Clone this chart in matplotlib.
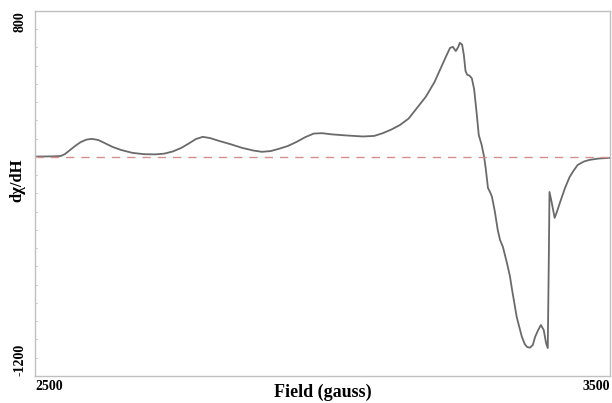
import numpy as np
import matplotlib.pyplot as plt

# EPR derivative spectrum
field = [2500, 2530, 2545, 2552, 2560, 2570, 2580, 2590, 2599, 2610, 2620, 2635,
         2650, 2670, 2690, 2710, 2725, 2740, 2755, 2770, 2780, 2792, 2805, 2820,
         2840, 2860, 2880, 2895, 2910, 2925, 2940, 2955, 2970, 2985, 3000, 3015,
         3040, 3070, 3090, 3105, 3120, 3135, 3150, 3165, 3180, 3195, 3205, 3215,
         3222, 3227, 3232, 3236, 3239, 3243, 3246, 3249, 3252, 3256, 3260, 3264,
         3268, 3272, 3277, 3281, 3284, 3288, 3292, 3295, 3300, 3305, 3309, 3314,
         3321, 3326, 3330, 3338, 3347, 3352, 3356, 3361, 3366, 3370, 3375, 3380,
         3385, 3389, 3392, 3394, 3395, 3399, 3404, 3408, 3413, 3422, 3430, 3437,
         3444, 3455, 3465, 3480, 3500]
signal = [2, 3, 5, 15, 35, 60, 82, 95, 99, 93, 78, 55,
          38, 22, 15, 14, 18, 30, 50, 78, 98, 110, 103, 88,
          70, 50, 35, 28, 32, 45, 60, 82, 108, 128, 130, 124,
          118, 112, 115, 130, 150, 175, 210, 270, 330, 410, 480, 550,
          597, 603, 580, 600, 625, 615, 560, 470, 450, 445, 430, 370,
          250, 120, 66, 5, -60, -170, -195, -219, -300, -400, -455, -493,
          -581, -650, -729, -877, -986, -1025, -1041, -1045, -1030, -986, -950, -921,
          -948, -1019, -1047, -510, -192, -252, -334, -300, -252, -170, -110, -75,
          -44, -25, -16, -9, -5]

fig = plt.figure(figsize=(6.12, 4.03), dpi=100)
ax = fig.add_axes([0.057, 0.067, 0.9395, 0.906])

ax.plot(field, signal, color='#6a6a6a', linewidth=1.3)
ax.axhline(0, color='#d49090', linewidth=1.0, linestyle=(0, (6, 5)))

ax.set_xlim(2500, 3500)
ax.set_ylim(-1200, 800)

serif = ['Liberation Serif', 'DejaVu Serif']
ax.set_xticks([2500, 3500])
ax.set_xticklabels(['2500', '3500'], family=serif, fontweight='bold', fontsize=10)
ax.get_xticklabels()[0].set_ha('left')
ax.get_xticklabels()[1].set_ha('right')
ax.set_yticks([-1200, 800])
ax.set_yticklabels(['-1200', '800'], family=serif, fontweight='bold', fontsize=10,
                   rotation=90)
ax.get_yticklabels()[0].set_va('bottom')
ax.get_yticklabels()[1].set_va('top')
ax.tick_params(axis='x', length=0, pad=3)
ax.tick_params(axis='y', length=0, pad=6)

# small marks along the left frame
for yv in np.arange(-1100, 800, 100):
    ax.plot([2500, 2503], [yv, yv], color='#c8c8c8', linewidth=0.6)

for s in ax.spines.values():
    s.set_color('#c0c0c0')
    s.set_linewidth(1.0)

ax.set_xlabel('Field (gauss)', family=serif, fontweight='bold', fontsize=13)
ax.xaxis.set_label_coords(0.5, -0.022)
ax.set_ylabel('dχ/dH', family=serif, fontweight='bold', fontsize=12)
ax.yaxis.set_label_coords(-0.03, 0.535)
ax.yaxis.label.set_va('center')

fig.savefig('out.png', dpi=100)
